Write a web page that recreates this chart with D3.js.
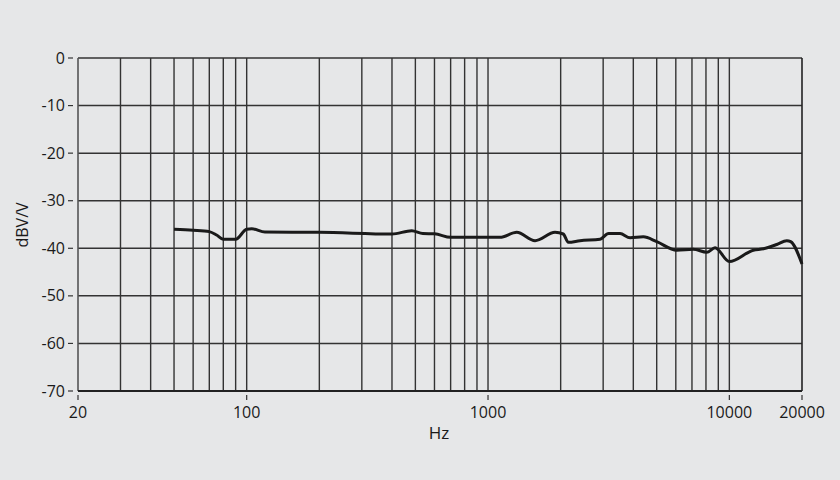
<!DOCTYPE html>
<html>
<head>
<meta charset="utf-8">
<script src="https://cdn.jsdelivr.net/npm/d3@7"></script>
<style>
  html, body { margin: 0; padding: 0; background: #e6e7e8; }
  svg { display: block; }
</style>
</head>
<body>
<div id="grafica"></div>
<script>
// frecuencias (Hz) y respuesta (dBV/V)
const frecuencias = [50, 60, 70, 75, 80, 90, 100, 105, 119, 200, 400, 483, 537, 600, 700, 1121, 1315, 1566, 1895, 2050, 2152, 2405, 2912, 3160, 3525, 3878, 4404, 5000, 6056, 7093, 8060, 8725, 10000, 12570, 13830, 15720, 17300, 17950, 20000];
const respuesta = [-36.0, -36.2, -36.5, -37.2, -38.1, -38.1, -36.0, -35.9, -36.6, -36.65, -37.0, -36.3, -36.9, -36.95, -37.7, -37.7, -36.65, -38.4, -36.65, -37.0, -38.75, -38.4, -38.1, -36.9, -36.9, -37.8, -37.6, -38.6, -40.4, -40.2, -40.85, -39.9, -42.8, -40.4, -40.1, -39.2, -38.4, -38.6, -43.3];

const lineasVerticales = [30, 40, 50, 60, 70, 80, 90, 100, 200, 300, 400, 500, 600, 700, 800, 900, 1000, 2000, 3000, 4000, 5000, 6000, 7000, 8000, 9000, 10000];
const ticksX = [20, 100, 1000, 10000, 20000];
const ticksY = [0, -10, -20, -30, -40, -50, -60, -70];

const ancho = 840, alto = 480;
const margen = { izq: 78, der: 38, arr: 58, aba: 89 };

const $svg = d3.select("#grafica")
    .append("svg")
    .attr("width", ancho)
    .attr("height", alto)
    .style("font-family", "'Open Sans', sans-serif");

$svg.append("rect")
    .attr("width", ancho)
    .attr("height", alto)
    .attr("fill", "#e6e7e8");

const x = d3.scaleLog()
    .domain([20, 20000])
    .range([margen.izq, ancho - margen.der]);

const y = d3.scaleLinear()
    .domain([-70, 0])
    .range([alto - margen.aba, margen.arr]);

const colorRejilla = "#333";

// rejilla horizontal
$svg.append("g")
    .selectAll("line")
    .data(ticksY)
    .join("line")
    .attr("x1", x(20))
    .attr("x2", x(20000))
    .attr("y1", d => y(d))
    .attr("y2", d => y(d))
    .attr("stroke", colorRejilla)
    .attr("stroke-width", 1.5);

// rejilla vertical
$svg.append("g")
    .selectAll("line")
    .data(lineasVerticales)
    .join("line")
    .attr("x1", d => x(d))
    .attr("x2", d => x(d))
    .attr("y1", y(0))
    .attr("y2", y(-70))
    .attr("stroke", colorRejilla)
    .attr("stroke-width", 1.4);

// bordes
$svg.append("line")
    .attr("x1", x(20)).attr("x2", x(20))
    .attr("y1", y(0)).attr("y2", y(-70))
    .attr("stroke", "#555").attr("stroke-width", 1.6);
$svg.append("line")
    .attr("x1", x(20000)).attr("x2", x(20000))
    .attr("y1", y(0)).attr("y2", y(-70))
    .attr("stroke", "#222").attr("stroke-width", 1.6);
$svg.append("line")
    .attr("x1", x(20)).attr("x2", x(20000))
    .attr("y1", y(-70)).attr("y2", y(-70))
    .attr("stroke", "#222").attr("stroke-width", 1.8);

// eje Y: marcas y etiquetas
const ejeY = $svg.append("g");
ejeY.selectAll("line")
    .data(ticksY)
    .join("line")
    .attr("x1", x(20) - 10)
    .attr("x2", x(20) - 5)
    .attr("y1", d => y(d))
    .attr("y2", d => y(d))
    .attr("stroke", "#333")
    .attr("stroke-width", 1.2);
ejeY.selectAll("text")
    .data(ticksY)
    .join("text")
    .attr("x", x(20) - 13)
    .attr("y", d => y(d))
    .attr("dy", "0.35em")
    .attr("text-anchor", "end")
    .attr("font-size", 16)
    .attr("fill", "#1a1a1a")
    .text(d => d === 0 ? "0" : "-" + Math.abs(d));

// eje X: marcas y etiquetas
const ejeX = $svg.append("g");
ejeX.selectAll("line")
    .data(ticksX)
    .join("line")
    .attr("x1", d => x(d))
    .attr("x2", d => x(d))
    .attr("y1", y(-70) + 4)
    .attr("y2", y(-70) + 9)
    .attr("stroke", "#333")
    .attr("stroke-width", 1.2);
ejeX.selectAll("text")
    .data(ticksX)
    .join("text")
    .attr("x", d => x(d))
    .attr("y", y(-70) + 27)
    .attr("text-anchor", "middle")
    .attr("font-size", 16)
    .attr("fill", "#1a1a1a")
    .text(d => d);

$svg.append("text")
    .attr("x", 439)
    .attr("y", 439)
    .attr("text-anchor", "middle")
    .attr("font-size", 17)
    .attr("fill", "#1a1a1a")
    .text("Hz");

$svg.append("text")
    .attr("transform", "translate(28,225) rotate(-90)")
    .attr("text-anchor", "middle")
    .attr("font-size", 16)
    .attr("fill", "#1a1a1a")
    .text("dBV/V");

// curva de respuesta
const linea = d3.line()
    .x((d, i) => x(frecuencias[i]))
    .y(d => y(d))
    .curve(d3.curveMonotoneX);

$svg.append("path")
    .datum(respuesta)
    .attr("d", linea)
    .attr("fill", "none")
    .attr("stroke", "#1a1a1a")
    .attr("stroke-width", 3)
    .attr("stroke-linejoin", "round");
</script>
</body>
</html>
